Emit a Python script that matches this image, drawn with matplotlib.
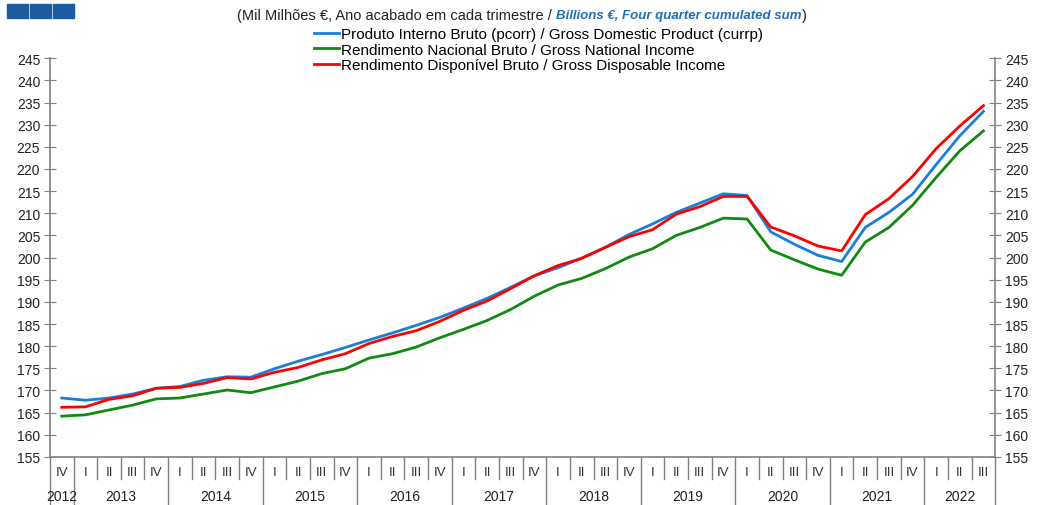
import numpy as np
import matplotlib
matplotlib.use("Agg")
import matplotlib.pyplot as plt
from matplotlib.patches import Rectangle
from matplotlib.transforms import blended_transform_factory

plt.rcParams['font.family'] = ['Liberation Sans', 'DejaVu Sans']

# quarters: 2012 IV ... 2022 III
quarters = ['IV'] + ['I', 'II', 'III', 'IV'] * 9 + ['I', 'II', 'III']
years = ['2012', '2013', '2014', '2015', '2016', '2017', '2018', '2019', '2020', '2021', '2022']
year_counts = [1, 4, 4, 4, 4, 4, 4, 4, 4, 4, 3]

gdp = [168.3, 167.8, 168.3, 169.2, 170.5, 170.9, 172.3, 173.1, 173.0, 174.9,
       176.6, 178.1, 179.7, 181.4, 183.0, 184.7, 186.5, 188.6, 190.8, 193.3,
       195.9, 197.7, 199.9, 202.3, 205.2, 207.6, 210.2, 212.3, 214.4, 214.0,
       205.8, 203.0, 200.5, 199.1, 206.8, 210.2, 214.3, 221.0, 227.5, 233.0]
gni = [164.2, 164.5, 165.6, 166.7, 168.1, 168.3, 169.2, 170.1, 169.5, 170.8,
       172.1, 173.8, 174.9, 177.3, 178.3, 179.8, 181.9, 183.8, 185.8, 188.3,
       191.3, 193.8, 195.3, 197.5, 200.1, 202.0, 205.0, 206.8, 208.9, 208.7,
       201.7, 199.5, 197.4, 196.0, 203.5, 206.8, 211.8, 218.1, 224.1, 228.6]
gdi = [166.2, 166.3, 168.0, 168.8, 170.5, 170.7, 171.6, 172.9, 172.6, 174.1,
       175.2, 176.9, 178.3, 180.6, 182.2, 183.5, 185.6, 188.1, 190.2, 193.0,
       195.9, 198.2, 199.8, 202.3, 204.7, 206.3, 209.8, 211.5, 213.8, 213.8,
       206.9, 204.9, 202.6, 201.5, 209.7, 213.3, 218.3, 224.6, 229.7, 234.3]

labels = ['Produto Interno Bruto (pcorr) / Gross Domestic Product (currp)',
          'Rendimento Nacional Bruto / Gross National Income',
          'Rendimento Disponível Bruto / Gross Disposable Income']
colors = ['#1a7fd6', '#108a10', '#ff0000']

fig = plt.figure(figsize=(10.4, 5.06), dpi=100)
ax = fig.add_axes([0.048, 0.095, 0.909, 0.788])

x = np.arange(len(quarters))
lines = []
for vals, lab, col in zip([gdp, gni, gdi], labels, colors):
    ln, = ax.plot(x, vals, color=col, lw=2.0, label=lab)
    lines.append(ln)

ax.set_xlim(-0.5, len(quarters) - 0.5)
ax.set_ylim(155, 245)
ax.set_yticks(np.arange(155, 246, 5))
ax.tick_params(axis='y', which='both', direction='inout', length=8, color='#808080',
               labelsize=10, labelcolor='#222222', left=True, right=True,
               labelleft=True, labelright=True, pad=3)
ax.set_xticks([])
ax.spines['top'].set_visible(False)
for s in ['left', 'right', 'bottom']:
    ax.spines[s].set_color('#808080')
    ax.spines[s].set_linewidth(1.2)

# category axis: quarter labels and separators
tr = blended_transform_factory(ax.transData, ax.transAxes)
for i, q in enumerate(quarters):
    ax.text(i, -0.022, q, transform=tr, ha='center', va='top', fontsize=9.5, color='#333333')
for i in range(len(quarters) + 1):
    xb = i - 0.5
    is_year = i == 0 or i == len(quarters) or quarters[i] == 'I'
    y0 = -0.125 if is_year else -0.055
    ax.plot([xb, xb], [0, y0], transform=tr, color='#808080', lw=1.0, clip_on=False)

# year labels centred on their quarters
pos = 0
for yr, n in zip(years, year_counts):
    ax.text(pos + (n - 1) / 2, -0.08, yr, transform=tr, ha='center', va='top',
            fontsize=10, color='#222222')
    pos += n

# title with mixed styles
renderer = fig.canvas.get_renderer()
ty = 1 - 16 / 506
t1 = fig.text(237 / 1040, ty, '(Mil Milhões €, Ano acabado em cada trimestre / ',
              ha='left', va='center', fontsize=10.5, color='#222222')
bb = t1.get_window_extent(renderer)
t2 = fig.text(bb.x1 / 1040, ty, 'Billions €, Four quarter cumulated sum',
              ha='left', va='center', fontsize=9.5, color='#1e6fb8',
              fontweight='bold', fontstyle='italic')
bb2 = t2.get_window_extent(renderer)
fig.text(bb2.x1 / 1040, ty, ')', ha='left', va='center', fontsize=10.5, color='#222222')

fig.legend(handles=lines, loc='upper left', bbox_to_anchor=(305 / 1040, 1 - 19 / 506),
           frameon=False, fontsize=11, handlelength=1.6, handletextpad=0.15,
           labelspacing=0.1, borderpad=0.1)

# logo squares
for k in range(3):
    fig.patches.append(Rectangle(((7 + k * 23) / 1040, 1 - 19 / 506), 21 / 1040, 14 / 506,
                                 transform=fig.transFigure, color='#1d5aa0'))

fig.savefig('out.png', dpi=100)
